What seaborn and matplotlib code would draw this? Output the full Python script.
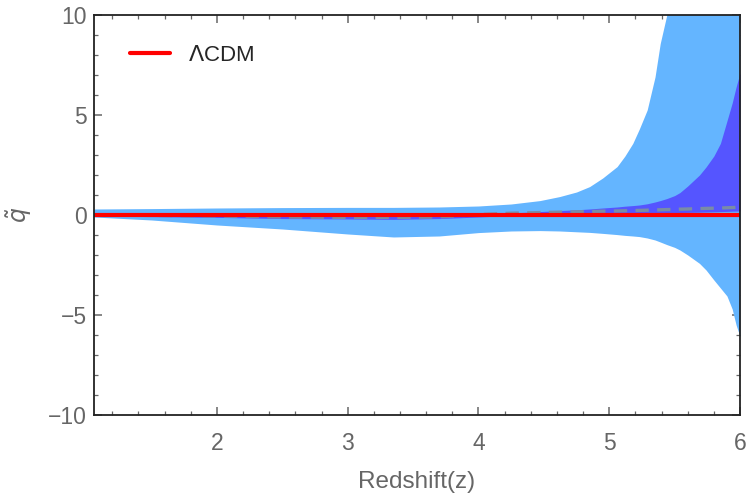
import matplotlib
matplotlib.use("Agg")
import matplotlib.pyplot as plt
from matplotlib.ticker import MultipleLocator
import seaborn as sns
import pandas as pd

# redshift grid
z = [1.06, 1.5, 2.0, 2.5, 3.0, 3.35, 3.7, 4.0, 4.25, 4.47, 4.62, 4.75, 4.85,
     4.95, 5.06, 5.12, 5.18, 5.23, 5.29, 5.35, 5.39, 5.44, 5.5, 5.54, 5.6,
     5.69, 5.74, 5.8, 5.85, 5.9, 5.94, 5.97, 6.0]

# outer (light) band
outer_hi = [0.30, 0.32, 0.35, 0.37, 0.38, 0.38, 0.40, 0.45, 0.55, 0.72, 0.92,
            1.15, 1.42, 1.85, 2.42, 2.95, 3.58, 4.30, 5.25, 6.90, 8.58, 10.0,
            12.0, 14.0, 14.0, 14.0, 14.0, 14.0, 14.0, 14.0, 14.0, 14.0, 14.0]
outer_lo = [-0.10, -0.25, -0.50, -0.70, -0.95, -1.10, -1.05, -0.88, -0.80,
            -0.78, -0.80, -0.84, -0.87, -0.92, -0.98, -1.02, -1.05, -1.08,
            -1.15, -1.25, -1.35, -1.48, -1.62, -1.75, -2.00, -2.42, -2.75,
            -3.25, -3.65, -4.05, -4.70, -5.50, -6.08]

# inner (dark) band
inner_hi = [0.00, 0.00, -0.02, -0.04, -0.05, -0.05, -0.03, 0.03, 0.10, 0.17,
            0.22, 0.26, 0.30, 0.35, 0.40, 0.44, 0.47, 0.50, 0.56, 0.65, 0.72,
            0.82, 0.97, 1.12, 1.45, 2.00, 2.40, 2.95, 3.58, 4.70, 5.60, 6.40,
            7.10]
inner_lo = [-0.05, -0.08, -0.12, -0.18, -0.20, -0.22, -0.18, -0.10, -0.03,
            0.00, 0.02, 0.03, 0.04, 0.05, 0.06, 0.07, 0.08, 0.08, 0.09, 0.10,
            0.10, 0.11, 0.12, 0.12, 0.13, 0.14, 0.15, 0.16, 0.17, 0.18, 0.19,
            0.195, 0.20]

# reconstructed mean and LCDM reference
q_mean = [0.00, -0.02, -0.05, -0.10, -0.12, -0.12, -0.10, 0.02, 0.09, 0.12,
          0.14, 0.16, 0.17, 0.19, 0.20, 0.21, 0.22, 0.23, 0.24, 0.25, 0.26,
          0.27, 0.28, 0.29, 0.30, 0.32, 0.33, 0.34, 0.35, 0.36, 0.37, 0.38,
          0.39]
q_lcdm = [0.0] * len(z)

df = pd.DataFrame({"z": z, "mean": q_mean, "lcdm": q_lcdm})

sns.set_style("ticks")
plt.rcParams["font.family"] = ["Liberation Sans", "DejaVu Sans"]
plt.rcParams["mathtext.fontset"] = "dejavusans"

fig = plt.figure(figsize=(7.5, 4.98), dpi=100)
ax = fig.add_axes([0.1253, 0.1667, 0.8614, 0.8032])

ax.fill_between(z, outer_lo, outer_hi, color="#64b5ff", lw=0)
ax.fill_between(z, inner_lo, inner_hi, color="#5555ff", lw=0)
sns.lineplot(data=df, x="z", y="mean", ax=ax, color="#7a8ca6",
             lw=2.4, linestyle=(0, (4, 2.5)))
sns.lineplot(data=df, x="z", y="lcdm", ax=ax, color="#ff0000", lw=3,
             label=r"$\Lambda$CDM")

ax.set_xlim(1.06, 6)
ax.set_ylim(-10, 10)
ax.xaxis.set_major_locator(MultipleLocator(1))
ax.xaxis.set_minor_locator(MultipleLocator(0.2))
ax.yaxis.set_major_locator(MultipleLocator(5))
ax.yaxis.set_minor_locator(MultipleLocator(1))

ax.tick_params(which="both", direction="in", top=True, right=True,
               color="#666666", labelcolor="#666666", labelsize=16.5)
ax.tick_params(which="major", length=6, width=1.1)
ax.tick_params(which="minor", length=3, width=0.9)
ax.tick_params(axis="x", pad=12)
ax.tick_params(axis="y", pad=5)

for s in ax.spines.values():
    s.set_color("#222222")
    s.set_linewidth(1.3)

ax.set_xlabel("Redshift(z)", fontsize=17.5, color="#666666", labelpad=12)
ax.set_ylabel(r"$\tilde{q}$", fontsize=17, color="#666666", labelpad=10)

leg = ax.legend(loc="upper left", frameon=False, fontsize=16,
                handlelength=1.8, handletextpad=0.8,
                bbox_to_anchor=(0.025, 0.975))

fig.savefig("out.png", dpi=100)
